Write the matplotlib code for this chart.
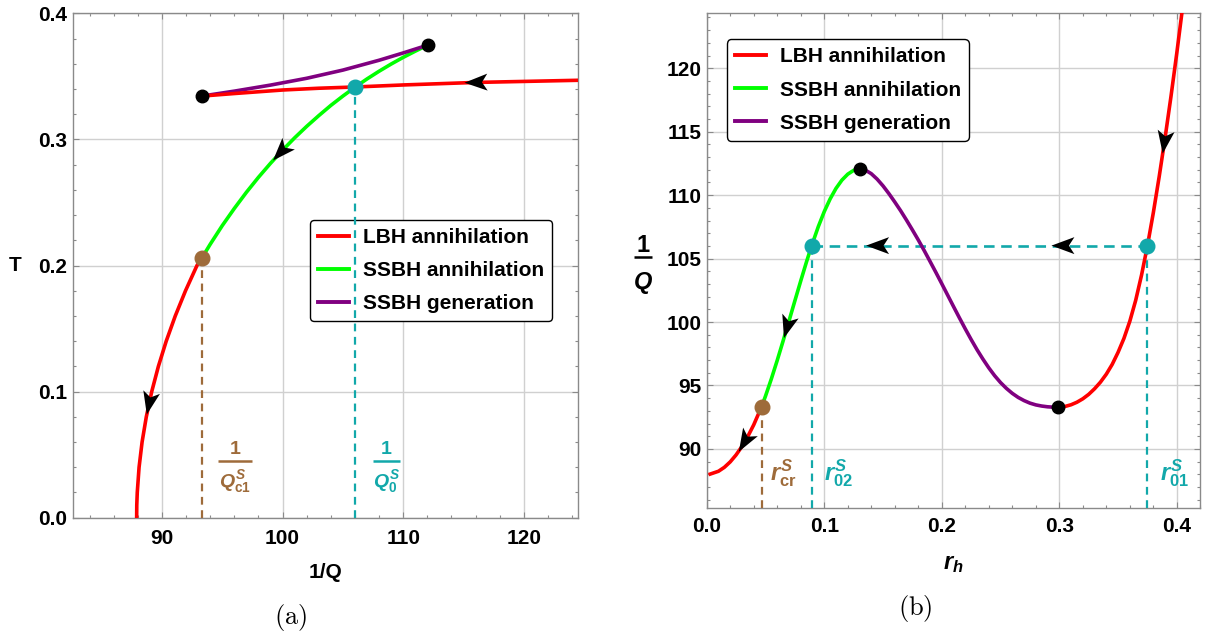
import numpy as np
import matplotlib
matplotlib.use('Agg')
import matplotlib.pyplot as plt
from matplotlib.patches import Polygon
from matplotlib.lines import Line2D
from matplotlib import transforms
from matplotlib.ticker import MultipleLocator, FormatStrFormatter

plt.rcParams['font.family'] = ['Liberation Sans', 'DejaVu Sans']
plt.rcParams['font.weight'] = 'bold'
plt.rcParams['mathtext.fontset'] = 'custom'
plt.rcParams['mathtext.rm'] = 'Liberation Sans:bold'
plt.rcParams['mathtext.it'] = 'Liberation Sans:italic:bold'
plt.rcParams['mathtext.bf'] = 'Liberation Sans:bold'

RED = '#ff0000'
GREEN = '#00ff00'
PURPLE = '#800080'
CYAN = '#12a8aa'
BROWN = '#9e6b3a'
FRAME = '#8a8a8a'

# ---------- panel (a): T vs 1/Q ----------
a_red_low_x = [87.9, 87.91, 87.95, 88.1, 88.35, 88.7, 89.15, 89.7, 90.35, 91.1, 91.95, 92.9, 93.32]
a_red_low_y = [0.0, 0.01, 0.02, 0.04, 0.06, 0.08, 0.1, 0.12, 0.14, 0.16, 0.18, 0.2, 0.2062]
a_green_x = [93.32, 94, 95, 96, 97, 98, 99, 100, 101, 102, 103, 104, 105, 106.03,
             107, 108, 109, 110, 111, 112.03]
a_green_y = [0.2062, 0.2169, 0.2317, 0.2453, 0.2581, 0.27, 0.2811, 0.2915, 0.3013, 0.3104,
             0.3189, 0.327, 0.3344, 0.3416, 0.348, 0.3541, 0.3598, 0.3651, 0.37, 0.3748]
a_purple_x = [93.32, 96, 99, 102, 105, 108, 110, 112.03]
a_purple_y = [0.3344, 0.3383, 0.3431, 0.3485, 0.355, 0.3628, 0.3686, 0.3748]
a_red_up_x = [93.32, 96, 100, 103, 106.03, 110, 116, 120, 124.45]
a_red_up_y = [0.3344, 0.3364, 0.3392, 0.3406, 0.3416, 0.3432, 0.3452, 0.346, 0.3469]

a_black_x = [93.32, 112.03]
a_black_y = [0.3344, 0.3748]
a_Qc1 = (93.32, 0.2062)   # brown point
a_Q0 = (106.03, 0.3416)   # cyan point

# ---------- panel (b): 1/Q vs r_h ----------
b_red1_x = [0.003, 0.01, 0.015, 0.02, 0.025, 0.03, 0.035, 0.04, 0.0467]
b_red1_y = [88.02, 88.24, 88.55, 88.98, 89.53, 90.2, 90.99, 91.9, 93.33]
b_green_x = [0.0467, 0.05, 0.055, 0.06, 0.065, 0.07, 0.075, 0.08, 0.085, 0.0893,
             0.095, 0.1, 0.105, 0.11, 0.115, 0.12, 0.125, 0.1303]
b_green_y = [93.33, 94.16, 95.52, 96.98, 98.51, 100.08, 101.67, 103.24, 104.77, 106.02,
             107.53, 108.7, 109.7, 110.53, 111.18, 111.65, 111.95, 112.06]
b_purple_x = [0.1303, 0.135, 0.14, 0.145, 0.15, 0.155, 0.16, 0.165, 0.17, 0.175, 0.18,
              0.185, 0.19, 0.195, 0.2, 0.205, 0.21, 0.215, 0.22, 0.225, 0.23, 0.235,
              0.24, 0.245, 0.25, 0.255, 0.26, 0.265, 0.27, 0.275, 0.28, 0.285, 0.29,
              0.295, 0.2988]
b_purple_y = [112.06, 111.97, 111.69, 111.26, 110.73, 110.12, 109.46, 108.77, 108.03,
              107.26, 106.47, 105.64, 104.78, 103.91, 103.02, 102.12, 101.22, 100.33,
              99.46, 98.62, 97.82, 97.08, 96.39, 95.77, 95.23, 94.77, 94.38, 94.06,
              93.81, 93.61, 93.47, 93.38, 93.32, 93.29, 93.29]
b_red2_x = [0.2988, 0.305, 0.31, 0.315, 0.32, 0.325, 0.33, 0.335, 0.34, 0.345, 0.35,
            0.355, 0.36, 0.365, 0.37, 0.375, 0.38, 0.385, 0.39, 0.395, 0.4, 0.405]
b_red2_y = [93.29, 93.35, 93.48, 93.68, 93.95, 94.3, 94.74, 95.26, 95.89, 96.66, 97.61,
            98.71, 100.06, 101.71, 103.71, 106.01, 108.61, 111.46, 114.51, 117.76,
            121.21, 124.86]

b_black_x = [0.1303, 0.2988]
b_black_y = [112.06, 93.29]
b_rcr = (0.0467, 93.33)
b_r02 = (0.0893, 106.02)
b_r01 = (0.375, 106.02)

legend_labels = ['LBH annihilation', 'SSBH annihilation', 'SSBH generation']


def arrowhead(ax, xs, ys, x0, sign=-1):
    xs = np.asarray(xs, float)
    ys = np.asarray(ys, float)
    y0 = np.interp(x0, xs, ys)
    d = (xs[-1] - xs[0]) * 0.01
    p1 = ax.transData.transform((x0 - d, np.interp(x0 - d, xs, ys)))
    p2 = ax.transData.transform((x0 + d, np.interp(x0 + d, xs, ys)))
    v = (p2 - p1) * sign
    ang = np.arctan2(v[1], v[0])
    verts = np.array([[0.12, 0], [-0.11, 0.085], [-0.055, 0], [-0.11, -0.085]])
    c, s = np.cos(ang), np.sin(ang)
    verts = verts @ np.array([[c, -s], [s, c]]).T
    tr = ax.figure.dpi_scale_trans + transforms.ScaledTranslation(x0, y0, ax.transData)
    ax.add_patch(Polygon(verts, closed=True, transform=tr, facecolor='black',
                         edgecolor='none', zorder=5, clip_on=False))


def frac_text(ax, x, y, num, den, color, size, barw, num_dy, den_dy, trans):
    # stacked fraction: numerator / bar / denominator, offsets in pixels
    fig = ax.figure
    t_num = transforms.offset_copy(trans, fig=fig, x=0, y=num_dy, units='dots')
    t_den = transforms.offset_copy(trans, fig=fig, x=0, y=den_dy, units='dots')
    ax.text(x, y, num, transform=t_num, ha='center', va='baseline', color=color,
            fontsize=size, fontweight='bold', clip_on=False)
    ax.text(x, y, den, transform=t_den, ha='center', va='baseline', color=color,
            fontsize=size, clip_on=False)
    tb = fig.dpi_scale_trans + transforms.ScaledTranslation(x, y, trans)
    ax.add_line(Line2D([-barw / 200, barw / 200], [0, 0], transform=tb, color=color,
                       lw=1.8, solid_capstyle='butt', clip_on=False))


def style_axes(ax, xmaj, xmin, ymaj, ymin, xfmt, yfmt, xpad, ypad):
    ax.xaxis.set_major_locator(MultipleLocator(xmaj))
    ax.xaxis.set_minor_locator(MultipleLocator(xmin))
    ax.yaxis.set_major_locator(MultipleLocator(ymaj))
    ax.yaxis.set_minor_locator(MultipleLocator(ymin))
    ax.xaxis.set_major_formatter(FormatStrFormatter(xfmt))
    ax.yaxis.set_major_formatter(FormatStrFormatter(yfmt))
    ax.tick_params(which='both', direction='in', top=True, right=True, color=FRAME,
                   labelsize=15, width=0.8)
    ax.tick_params(which='major', length=4)
    ax.tick_params(which='minor', length=2.5)
    ax.tick_params(axis='x', pad=xpad)
    ax.tick_params(axis='y', pad=ypad)
    for lab in ax.get_xticklabels() + ax.get_yticklabels():
        lab.set_fontweight('bold')
    for sp in ax.spines.values():
        sp.set_color(FRAME)
        sp.set_linewidth(1.0)
    ax.grid(True, which='major', color='#d0d0d0', lw=1.0)
    ax.set_axisbelow(True)


def add_legend(ax, anchor):
    handles = [Line2D([], [], color=c, lw=2.8) for c in (RED, GREEN, PURPLE)]
    leg = ax.legend(handles, legend_labels, loc='upper left', bbox_to_anchor=anchor,
                    borderaxespad=0, handlelength=1.5, handletextpad=0.65,
                    labelspacing=0.68, borderpad=0.38, fancybox=True, framealpha=1,
                    edgecolor='black', prop={'weight': 'bold', 'size': 15})
    leg.get_frame().set_linewidth(1.0)
    leg.set_zorder(2.5)
    return leg


fig = plt.figure(figsize=(12.06, 6.35), dpi=100)
lw = 2.6
dash = (0, (3.5, 2.5))

# ---------------- (a) ----------------
ax1 = fig.add_axes([0.0603, 0.1847, 0.4186, 0.7943])
ax1.set_xlim(82.6, 124.45)
ax1.set_ylim(0, 0.4)
style_axes(ax1, 10, 2, 0.1, 0.02, '%d', '%.1f', 8, 4)

ax1.plot(a_red_low_x, a_red_low_y, color=RED, lw=lw, zorder=4)
ax1.plot(a_green_x, a_green_y, color=GREEN, lw=lw, zorder=4)
ax1.plot(a_purple_x, a_purple_y, color=PURPLE, lw=lw, zorder=4)
ax1.plot(a_red_up_x, a_red_up_y, color=RED, lw=lw, zorder=4)

ax1.plot([a_Qc1[0], a_Qc1[0]], [0, a_Qc1[1]], color=BROWN, lw=1.6, ls=dash, zorder=3)
ax1.plot([a_Q0[0], a_Q0[0]], [0, a_Q0[1]], color=CYAN, lw=1.6, ls=dash, zorder=3)

ax1.plot(a_black_x, a_black_y, 'o', color='black', ms=9, zorder=6)
ax1.plot(*a_Qc1, 'o', color=BROWN, ms=10.5, zorder=6)
ax1.plot(*a_Q0, 'o', color=CYAN, ms=10.5, zorder=6)

arrowhead(ax1, a_red_up_x, a_red_up_y, 116.07, -1)
arrowhead(ax1, a_green_x, a_green_y, 99.88, -1)
arrowhead(ax1, a_red_low_x, a_red_low_y, 88.95, -1)

frac_text(ax1, 96.05, 0.0447, '1', r'$Q^{S}_{\mathrm{c1}}$', BROWN, 14, 34, 7, -26, ax1.transData)
frac_text(ax1, 108.6, 0.0447, '1', r'$Q^{S}_{0}$', CYAN, 14, 27, 7, -26, ax1.transData)

add_legend(ax1, (0.470, 0.590))
ax1.text(0.5, -0.1077, '1/Q', transform=ax1.transAxes, ha='center', va='center',
         fontsize=15, fontweight='bold')
ax1.text(-0.1137, 0.4996, 'T', transform=ax1.transAxes, ha='center', va='center',
         fontsize=15, fontweight='bold')

# ---------------- (b) ----------------
ax2 = fig.add_axes([0.5860, 0.2005, 0.4093, 0.7786])
ax2.set_xlim(0, 0.42)
ax2.set_ylim(85.37, 124.33)
style_axes(ax2, 0.1, 0.02, 5, 1, '%.1f', '%d', 7, 4)

ax2.plot(b_red1_x, b_red1_y, color=RED, lw=lw, zorder=4)
ax2.plot(b_green_x, b_green_y, color=GREEN, lw=lw, zorder=4)
ax2.plot(b_purple_x, b_purple_y, color=PURPLE, lw=lw, zorder=4)
ax2.plot(b_red2_x, b_red2_y, color=RED, lw=lw, zorder=4)

ybot = ax2.get_ylim()[0]
ax2.plot([b_rcr[0], b_rcr[0]], [ybot, b_rcr[1]], color=BROWN, lw=1.6, ls=dash, zorder=3)
ax2.plot([b_r02[0], b_r02[0]], [ybot, b_r02[1]], color=CYAN, lw=1.6, ls=dash, zorder=3)
ax2.plot([b_r01[0], b_r01[0]], [ybot, b_r01[1]], color=CYAN, lw=1.6, ls=dash, zorder=3)
hx = [b_r02[0], b_r01[0]]
hy = [b_r02[1], b_r01[1]]
ax2.plot(hx, hy, color=CYAN, lw=1.9, ls=(0, (4, 2.5)), zorder=3)

ax2.plot(b_black_x, b_black_y, 'o', color='black', ms=9, zorder=6)
ax2.plot(*b_rcr, 'o', color=BROWN, ms=10.5, zorder=6)
ax2.plot(hx, hy, 'o', color=CYAN, ms=10.5, zorder=6)

arrowhead(ax2, b_red1_x, b_red1_y, 0.0325, -1)
arrowhead(ax2, b_green_x, b_green_y, 0.0686, -1)
arrowhead(ax2, hx, hy, 0.1458, -1)
arrowhead(ax2, hx, hy, 0.3035, -1)
arrowhead(ax2, b_red2_x, b_red2_y, 0.3895, -1)

ax2.text(0.065, 88.1, r'$r^{S}_{\mathrm{cr}}$', color=BROWN, fontsize=17, ha='center', va='center')
ax2.text(0.112, 88.1, r'$r^{S}_{\mathrm{02}}$', color=CYAN, fontsize=17, ha='center', va='center')
ax2.text(0.3977, 88.1, r'$r^{S}_{\mathrm{01}}$', color=CYAN, fontsize=17, ha='center', va='center')

add_legend(ax2, (0.0407, 0.947))
ax2.text(0.5, -0.112, r'$r_h$', transform=ax2.transAxes, ha='center', va='center', fontsize=17)
frac_text(ax2, -0.1284, 0.508, '1', r'$Q$', 'black', 17, 18, 5, -32, ax2.transAxes)

fig.text(0.2412, 0.0268, r'$\mathrm{(a)}$', math_fontfamily='cm', fontsize=19,
         ha='center', va='center')
fig.text(0.7587, 0.0425, r'$\mathrm{(b)}$', math_fontfamily='cm', fontsize=19,
         ha='center', va='center')

fig.savefig('out.png', dpi=100, facecolor='white')
